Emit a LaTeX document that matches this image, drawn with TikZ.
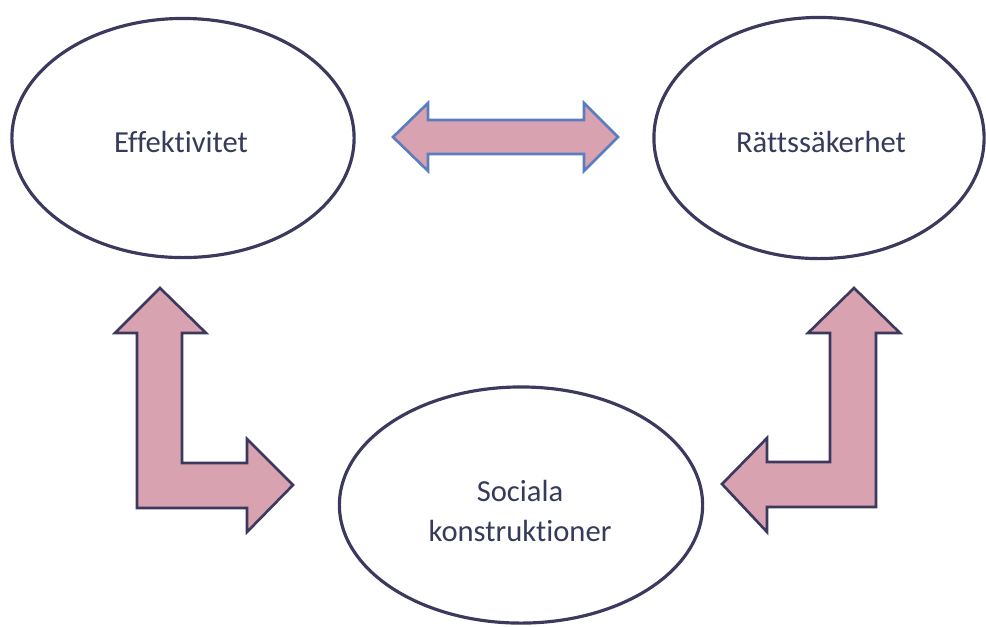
\documentclass[tikz,border=0pt]{standalone}
\usepackage{fontspec}
\setmainfont{Carlito}[Ligatures=NoCommon]
\usetikzlibrary{shapes.geometric}
\definecolor{edgedark}{HTML}{3B3A5E}
\definecolor{edgeblue}{HTML}{5B7DC0}
\definecolor{arrowpink}{HTML}{D9A2B0}
\definecolor{textcol}{HTML}{353B5A}
\tikzset{
  bubble/.style={ellipse, draw=edgedark, line width=0.9pt, fill=white, inner sep=0pt},
  label/.style={text=textcol, font=\fontsize{8.7}{11.4}\selectfont, align=center},
  bigarrow/.style={fill=arrowpink, draw=edgedark, line width=0.75pt, line join=miter},
  bigarrowblue/.style={fill=arrowpink, draw=edgeblue, line width=0.75pt, line join=miter}
}
\begin{document}
\begin{tikzpicture}[x=0.01cm,y=-0.01cm]
\useasboundingbox (0,0) rectangle (986,626);
% ellipses
\node[bubble, minimum width=3.42cm, minimum height=2.39cm] (eff) at (183,138) {};
\node[bubble, minimum width=3.30cm, minimum height=2.41cm] (ratt) at (819,138) {};
\node[bubble, minimum width=3.63cm, minimum height=2.36cm] (soc) at (521,505) {};
\node[label] (efft) at (181,142) {Effektivitet};
\node[label] (rattt) at (821,142) {Rättssäkerhet};
\node[label] (soct) at (520,511) {Sociala\\konstruktioner};
% horizontal double arrow
\draw[bigarrowblue] (393,137) -- (428,103) -- (428,120) -- (584,120) -- (584,103) -- (618,137)
  -- (584,171) -- (584,154) -- (428,154) -- (428,171) -- cycle;
% left L arrow
\draw[bigarrow] (160,288) -- (206,333) -- (182,333) -- (182,463) -- (247,463) -- (247,439)
  -- (293,485) -- (247,532) -- (247,508) -- (137,508) -- (137,333) -- (115,333) -- cycle;
% right L arrow
\draw[bigarrow] (854,288) -- (900,333) -- (876,333) -- (876,507) -- (767,507) -- (767,532)
  -- (722,484) -- (767,438) -- (767,462) -- (830,462) -- (830,333) -- (808,333) -- cycle;
\end{tikzpicture}
\end{document}
